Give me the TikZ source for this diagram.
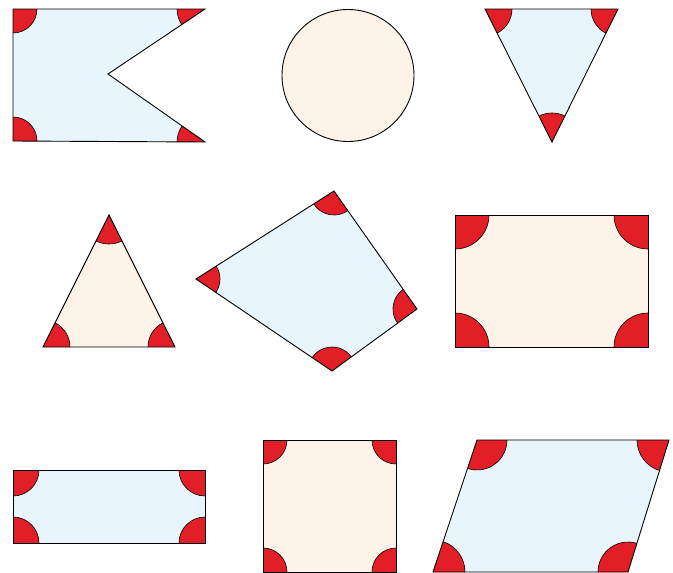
\documentclass[tikz,border=0pt]{standalone}
\usepackage{tikz}
\usetikzlibrary{angles}
\definecolor{skyfill}{HTML}{E8F5FD}
\definecolor{peachfill}{HTML}{FDF3E9}
\definecolor{markred}{HTML}{E21F26}

\begin{document}
\begin{tikzpicture}[x=1pt, y=-1pt,
            sky/.style = {fill=skyfill},
            peach/.style = {fill=peachfill},
            edge/.style = {draw=black, line width=0.9pt},
            ang/.style = {draw=black, line width=0.6pt, fill=markred}]
            \useasboundingbox (0,0) rectangle (673,573);
            % notched flag
            \coordinate (A1) at (13,9);
            \coordinate (A2) at (13,141);
            \coordinate (A3) at (205,142);
            \coordinate (A4) at (108,74);
            \coordinate (A5) at (205,9);
            \fill[sky] (A1) -- (A2) -- (A3) -- (A4) -- (A5) -- cycle;
            \pic [ang, angle radius=24pt] {angle = A2--A1--A5};
            \pic [ang, angle radius=24pt] {angle = A3--A2--A1};
            \pic [ang, angle radius=28pt] {angle = A4--A3--A2};
            \pic [ang, angle radius=28pt] {angle = A1--A5--A4};
            \draw[edge] (A1) -- (A2) -- (A3) -- (A4) -- (A5) -- cycle;
            % circle
            \coordinate (O) at (348,75.5);
            \draw[edge, peach] (O) circle[radius=66];
            % triangle pointing down
            \coordinate (B1) at (485,9);
            \coordinate (B2) at (552,142);
            \coordinate (B3) at (618,9);
            \fill[sky] (B1) -- (B2) -- (B3) -- cycle;
            \pic [ang, angle radius=27pt] {angle = B2--B1--B3};
            \pic [ang, angle radius=29pt] {angle = B3--B2--B1};
            \pic [ang, angle radius=27pt] {angle = B1--B3--B2};
            \draw[edge] (B1) -- (B2) -- (B3) -- cycle;
            % triangle pointing up
            \coordinate (C1) at (109,215);
            \coordinate (C2) at (43,347);
            \coordinate (C3) at (175,347);
            \fill[peach] (C1) -- (C2) -- (C3) -- cycle;
            \pic [ang, angle radius=29pt] {angle = C2--C1--C3};
            \pic [ang, angle radius=27pt] {angle = C3--C2--C1};
            \pic [ang, angle radius=27pt] {angle = C1--C3--C2};
            \draw[edge] (C1) -- (C2) -- (C3) -- cycle;
            % quadrilateral
            \coordinate (D1) at (334,191);
            \coordinate (D2) at (196,279);
            \coordinate (D3) at (332,371);
            \coordinate (D4) at (417,309);
            \fill[sky] (D1) -- (D2) -- (D3) -- (D4) -- cycle;
            \pic [ang, angle radius=24pt] {angle = D2--D1--D4};
            \pic [ang, angle radius=24pt] {angle = D3--D2--D1};
            \pic [ang, angle radius=24pt] {angle = D4--D3--D2};
            \pic [ang, angle radius=24pt] {angle = D1--D4--D3};
            \draw[edge] (D1) -- (D2) -- (D3) -- (D4) -- cycle;
            % big rectangle
            \coordinate (E1) at (455,215);
            \coordinate (E2) at (455,347);
            \coordinate (E3) at (648,347);
            \coordinate (E4) at (648,215);
            \fill[peach] (E1) -- (E2) -- (E3) -- (E4) -- cycle;
            \pic [ang, angle radius=34pt] {angle = E2--E1--E4};
            \pic [ang, angle radius=34pt] {angle = E3--E2--E1};
            \pic [ang, angle radius=34pt] {angle = E4--E3--E2};
            \pic [ang, angle radius=34pt] {angle = E1--E4--E3};
            \draw[edge] (E1) -- (E2) -- (E3) -- (E4) -- cycle;
            % flat rectangle
            \coordinate (F1) at (13,470);
            \coordinate (F2) at (13,543);
            \coordinate (F3) at (205,543);
            \coordinate (F4) at (205,470);
            \fill[sky] (F1) -- (F2) -- (F3) -- (F4) -- cycle;
            \pic [ang, angle radius=26pt] {angle = F2--F1--F4};
            \pic [ang, angle radius=26pt] {angle = F3--F2--F1};
            \pic [ang, angle radius=26pt] {angle = F4--F3--F2};
            \pic [ang, angle radius=26pt] {angle = F1--F4--F3};
            \draw[edge] (F1) -- (F2) -- (F3) -- (F4) -- cycle;
            % square
            \coordinate (G1) at (263,440);
            \coordinate (G2) at (263,572);
            \coordinate (G3) at (396,572);
            \coordinate (G4) at (396,440);
            \fill[peach] (G1) -- (G2) -- (G3) -- (G4) -- cycle;
            \pic [ang, angle radius=24pt] {angle = G2--G1--G4};
            \pic [ang, angle radius=24pt] {angle = G3--G2--G1};
            \pic [ang, angle radius=24pt] {angle = G4--G3--G2};
            \pic [ang, angle radius=24pt] {angle = G1--G4--G3};
            \draw[edge] (G1) -- (G2) -- (G3) -- (G4) -- cycle;
            % parallelogram
            \coordinate (H1) at (477,440);
            \coordinate (H2) at (433,572);
            \coordinate (H3) at (628,572);
            \coordinate (H4) at (669,440);
            \fill[sky] (H1) -- (H2) -- (H3) -- (H4) -- cycle;
            \pic [ang, angle radius=30pt] {angle = H2--H1--H4};
            \pic [ang, angle radius=32pt] {angle = H3--H2--H1};
            \pic [ang, angle radius=30pt] {angle = H4--H3--H2};
            \pic [ang, angle radius=32pt] {angle = H1--H4--H3};
            \draw[edge] (H1) -- (H2) -- (H3) -- (H4) -- cycle;
\end{tikzpicture}
\end{document}
